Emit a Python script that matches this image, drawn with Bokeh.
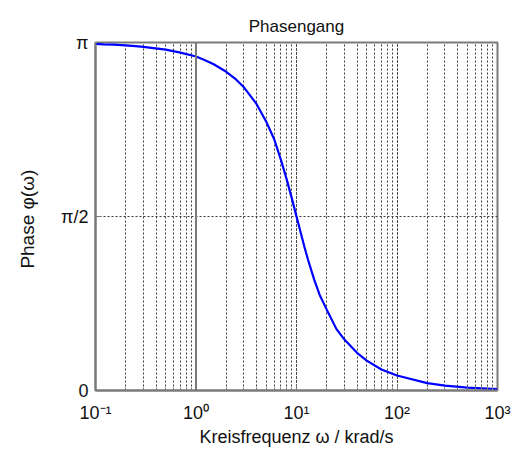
import math
from bokeh.plotting import figure
from bokeh.models import Range1d, FixedTicker, LogTicker, Span
from bokeh.embed import file_html
from bokeh.resources import INLINE

# ---- data ----
omega = [0.1, 0.12, 0.15, 0.2, 0.25, 0.3, 0.5, 0.7, 1, 1.2, 1.5, 2, 2.5, 3, 4, 5,
         6, 7, 8, 9, 10, 12, 13, 15, 17, 20, 25, 30, 40, 50, 70, 100, 200, 300,
         500, 1000]
phase = [3.129, 3.125, 3.122, 3.115, 3.108, 3.102, 3.077, 3.050, 3.015, 2.985,
         2.945, 2.877, 2.808, 2.737, 2.587, 2.427, 2.268, 2.082, 1.904, 1.732,
         1.571, 1.296, 1.183, 1.001, 0.863, 0.730, 0.554, 0.460, 0.340, 0.270,
         0.190, 0.135, 0.066, 0.044, 0.026, 0.013]

x_tick_vals = [0.1, 1, 10, 100, 1000]
x_tick_text = ["10⁻¹", "10⁰", "10¹", "10²", "10³"]
y_tick_vals = [0, math.pi / 2, math.pi]
y_tick_text = ["0", "π/2", "π"]

FONT = "Liberation Sans"
GRID = "#3a3a3a"
FRAME = "#7a7a7a"
TXT = "#111111"

p = figure(width=512, height=449, x_axis_type="log",
           x_range=Range1d(0.1, 1000), y_range=Range1d(0, math.pi),
           output_backend="svg", toolbar_location=None,
           min_border_left=95, min_border_right=15,
           min_border_top=42, min_border_bottom=50)
p.background_fill_color = "white"
p.outline_line_color = FRAME
p.outline_line_width = 2

p.title.text = "Phasengang"
p.title.align = "center"
p.title.vertical_align = "top"
p.title.text_font = FONT
p.title.text_font_size = "17px"
p.title.text_font_style = "normal"
p.title.text_color = TXT
p.title.standoff = 10

# x axis
xt = LogTicker(num_minor_ticks=10)
p.xaxis.ticker = xt
p.xaxis.major_label_overrides = {v: t for v, t in zip(x_tick_vals, x_tick_text)}
p.xaxis.major_label_text_font = FONT
p.xaxis.major_label_text_font_size = "18px"
p.xaxis.major_label_text_color = TXT
p.xaxis.major_label_standoff = 12
p.xaxis.axis_line_color = FRAME
p.xaxis.axis_line_width = 2
p.xaxis.major_tick_in = 6
p.xaxis.major_tick_out = 0
p.xaxis.minor_tick_in = 3
p.xaxis.minor_tick_out = 0
p.xaxis.major_tick_line_color = FRAME
p.xaxis.minor_tick_line_color = FRAME
p.xaxis.axis_label = "Kreisfrequenz ω / krad/s"
p.xaxis.axis_label_text_font = FONT
p.xaxis.axis_label_text_font_size = "18px"
p.xaxis.axis_label_text_font_style = "normal"
p.xaxis.axis_label_text_color = TXT
p.xaxis.axis_label_standoff = 1

# y axis
p.yaxis.ticker = FixedTicker(ticks=y_tick_vals)
p.yaxis.major_label_overrides = {v: t for v, t in zip(y_tick_vals, y_tick_text)}
p.yaxis.major_label_text_font = FONT
p.yaxis.major_label_text_font_size = "18px"
p.yaxis.major_label_text_color = TXT
p.yaxis.major_label_standoff = 7
p.yaxis.axis_line_color = FRAME
p.yaxis.axis_line_width = 2
p.yaxis.major_tick_in = 6
p.yaxis.major_tick_out = 0
p.yaxis.major_tick_line_color = FRAME
p.yaxis.axis_label = "Phase  φ(ω)"
p.yaxis.axis_label_text_font = FONT
p.yaxis.axis_label_text_font_size = "19px"
p.yaxis.axis_label_text_font_style = "normal"
p.yaxis.axis_label_text_color = TXT
p.yaxis.axis_label_standoff = 20

# grid
p.xgrid.ticker = xt
p.xgrid.grid_line_color = GRID
p.xgrid.grid_line_dash = "2 2"
p.xgrid.grid_line_width = 1
p.xgrid.minor_grid_line_color = GRID
p.xgrid.minor_grid_line_dash = "2 2"
p.xgrid.minor_grid_line_width = 1
p.ygrid.ticker = FixedTicker(ticks=y_tick_vals)
p.ygrid.grid_line_color = GRID
p.ygrid.grid_line_dash = "2 2"
p.ygrid.grid_line_width = 1

p.add_layout(Span(location=1, dimension="height", line_color=FRAME, line_width=2))

# curve
p.line(omega, phase, line_color="#0000ff", line_width=2.2)

open("out.html", "w").write(file_html(p, INLINE))
